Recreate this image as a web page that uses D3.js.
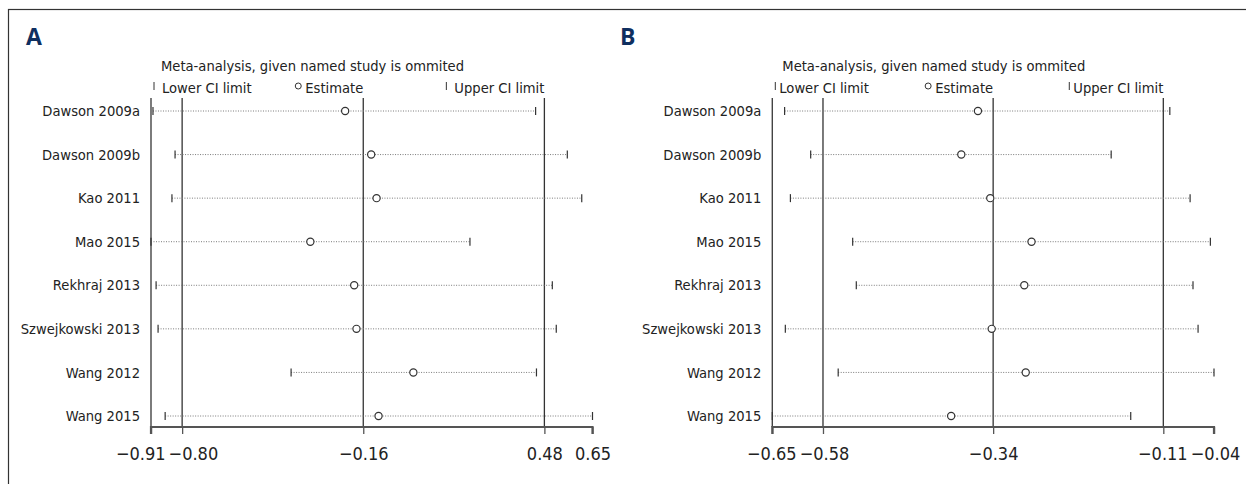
<!DOCTYPE html>
<html>
<head>
<meta charset="utf-8">
<script src="https://cdn.jsdelivr.net/npm/d3@7"></script>
<style>
  body { margin: 0; background: #fff; }
  svg text { font-family: "Liberation Sans Narrow", "DejaVu Sans Condensed", "Arial Narrow", sans-serif; fill: #222; }
</style>
</head>
<body>
<svg width="1246" height="484"></svg>
<script>
const studies = ["Dawson 2009a", "Dawson 2009b", "Kao 2011", "Mao 2015", "Rekhraj 2013",
                 "Szwejkowski 2013", "Wang 2012", "Wang 2015"];

// panel A
const estA   = [-0.224, -0.132, -0.113, -0.347, -0.192, -0.184, 0.017, -0.106];
const lowerA = [-0.903, -0.825, -0.836, -0.910, -0.892, -0.885, -0.415, -0.860];
const upperA = [0.449, 0.561, 0.612, 0.217, 0.508, 0.522, 0.452, 0.650];
const refA = [-0.80, -0.16, 0.48];
const domainA = [-0.91, 0.65];
const ticksA = [-0.91, -0.80, -0.16, 0.48, 0.65];
const tickLabelsA = ["−0.91", "−0.80", "−0.16", "0.48", "0.65"];

// panel B
const estB   = [-0.366, -0.389, -0.349, -0.292, -0.302, -0.347, -0.300, -0.403];
const lowerB = [-0.633, -0.597, -0.625, -0.539, -0.534, -0.632, -0.559, -0.650];
const upperB = [-0.101, -0.182, -0.073, -0.045, -0.069, -0.062, -0.040, -0.155];
const refB = [-0.58, -0.345, -0.11];
const domainB = [-0.65, -0.04];
const ticksB = [-0.65, -0.58, -0.345, -0.11, -0.04];
const tickLabelsB = ["−0.65", "−0.58", "−0.34", "−0.11", "−0.04"];

const svg = d3.select("svg");

// outer frame
svg.append("rect")
  .attr("x", 8.5).attr("y", 9.5)
  .attr("width", 1260).attr("height", 500)
  .attr("fill", "none").attr("stroke", "#333").attr("stroke-width", 1.2);

const y = d3.scalePoint().domain(studies).range([111, 416]);
const axisY = 427, lineTop = 98, fs = "14.6px";

const panels = [
  { letter: "A", lx: 26, x0: 151, x1: 592.5, gap: 11, est: estA, lower: lowerA, upper: upperA,
    ref: refA, domain: domainA, ticks: ticksA, labels: tickLabelsA },
  { letter: "B", lx: 620, x0: 772.3, x1: 1214, gap: 7, est: estB, lower: lowerB, upper: upperB,
    ref: refB, domain: domainB, ticks: ticksB, labels: tickLabelsB }
];

panels.forEach(p => {
  const x = d3.scaleLinear().domain(p.domain).range([p.x0, p.x1]);
  const g = svg.append("g");

  g.append("text")
    .attr("x", p.lx).attr("y", 45)
    .style("font-family", "'Open Sans', 'DejaVu Sans', sans-serif")
    .style("font-weight", "bold").style("font-size", "23px")
    .style("fill", "#0f2f5f")
    .text(p.letter);

  // title + legend
  g.append("text")
    .attr("x", p.x0 + 10).attr("y", 71)
    .style("font-size", fs)
    .text("Meta-analysis, given named study is ommited");

  const leg = g.append("g");
  leg.append("line")
    .attr("x1", p.x0 + 3).attr("x2", p.x0 + 3).attr("y1", 82).attr("y2", 90)
    .attr("stroke", "#333").attr("stroke-width", 1);
  leg.append("text").attr("x", p.x0 + p.gap).attr("y", 93).style("font-size", fs)
    .text("Lower CI limit");
  const estText = leg.append("text").attr("x", x(p.ref[1])).attr("y", 93).style("font-size", fs)
    .attr("text-anchor", "end").text("Estimate");
  const eb = estText.node().getBBox();
  leg.append("circle").attr("cx", eb.x - 7).attr("cy", 86).attr("r", 3)
    .attr("fill", "#fff").attr("stroke", "#333").attr("stroke-width", 1);
  const upText = leg.append("text").attr("x", x(p.ref[2])).attr("y", 93).style("font-size", fs)
    .attr("text-anchor", "end").text("Upper CI limit");
  const ub = upText.node().getBBox();
  leg.append("line")
    .attr("x1", ub.x - p.gap + 3).attr("x2", ub.x - p.gap + 3).attr("y1", 82).attr("y2", 90)
    .attr("stroke", "#333").attr("stroke-width", 1);

  // y axis line
  g.append("line")
    .attr("x1", p.x0).attr("x2", p.x0).attr("y1", lineTop).attr("y2", axisY)
    .attr("stroke", "#444").attr("stroke-width", 1.4);

  // reference lines
  g.selectAll(".ref").data(p.ref).enter().append("line")
    .attr("x1", d => x(d)).attr("x2", d => x(d))
    .attr("y1", lineTop).attr("y2", axisY)
    .attr("stroke", "#333").attr("stroke-width", 1.3);

  // x axis
  const xAxis = d3.axisBottom(x).tickValues(p.ticks).tickSize(7)
    .tickFormat((d, i) => p.labels[i]);
  const ax = g.append("g").attr("transform", `translate(0,${axisY})`).call(xAxis);
  ax.select(".domain").attr("stroke", "#555").attr("stroke-width", 2.2)
    .attr("d", `M${p.x0},7V0H${p.x1}V7`);
  ax.selectAll(".tick line").attr("stroke", "#555").attr("stroke-width", 1.3);
  ax.selectAll(".tick text")
    .attr("y", 20).attr("dy", "0.71em")
    .style("font-size", "18px").style("fill", "#222")
    .style("font-family", "'Liberation Sans Narrow', 'DejaVu Sans Condensed', sans-serif");

  // push overlapping tick labels apart
  const nodes = ax.selectAll(".tick text").nodes();
  for (let i = 1; i < nodes.length; i++) {
    const a = nodes[i - 1].getBBox(), b = nodes[i].getBBox();
    const ta = x(p.ticks[i - 1]), tb = x(p.ticks[i]);
    const overlap = (ta + a.width / 2 + 3) - (tb - b.width / 2);
    if (overlap > 0) {
      d3.select(nodes[i - 1]).attr("x", -overlap / 2);
      d3.select(nodes[i]).attr("x", overlap / 2);
    }
  }

  // study labels
  g.selectAll(".lab").data(studies).enter().append("text")
    .attr("x", p.x0 - 11).attr("y", d => y(d)).attr("dy", "0.35em")
    .attr("text-anchor", "end").style("font-size", fs)
    .text(d => d);

  // CI dotted lines
  const rows = studies.map((s, i) => ({ s, est: p.est[i], lo: p.lower[i], hi: p.upper[i] }));
  g.selectAll(".ci").data(rows).enter().append("line")
    .attr("x1", d => x(d.lo)).attr("x2", d => x(d.hi))
    .attr("y1", d => y(d.s)).attr("y2", d => y(d.s))
    .attr("stroke", "#7a7a7a").attr("stroke-width", 1).attr("stroke-dasharray", "1,1.5");
  g.selectAll(".lo").data(rows).enter().append("line")
    .attr("x1", d => x(d.lo)).attr("x2", d => x(d.lo))
    .attr("y1", d => y(d.s) - 4).attr("y2", d => y(d.s) + 4)
    .attr("stroke", "#333").attr("stroke-width", 1.2);
  g.selectAll(".hi").data(rows).enter().append("line")
    .attr("x1", d => x(d.hi)).attr("x2", d => x(d.hi))
    .attr("y1", d => y(d.s) - 4).attr("y2", d => y(d.s) + 4)
    .attr("stroke", "#333").attr("stroke-width", 1.2);
  g.selectAll(".est").data(rows).enter().append("circle")
    .attr("cx", d => x(d.est)).attr("cy", d => y(d.s)).attr("r", 3.6)
    .attr("fill", "#fff").attr("stroke", "#333").attr("stroke-width", 1.2);
});
</script>
</body>
</html>
